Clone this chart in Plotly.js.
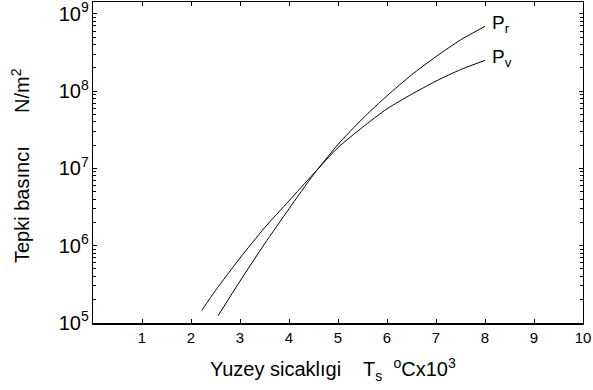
<!DOCTYPE html>
<html>
<head>
<meta charset="utf-8">
<script src="https://cdn.plot.ly/plotly-3.0.1.min.js"></script>
<style>html,body{margin:0;padding:0;background:#fff;}#chart{width:593px;height:390px;}</style>
</head>
<body>
<div id="chart"></div>
<script>
// Surface temperature (x 10^3 °C)
const prTemp = [2.55, 3.0, 3.5, 4.0, 4.5, 5.0, 5.5, 6.0, 6.5, 7.0, 7.5, 8.0];
// Reaction pressure P_r (N/m^2)
const prPressure = [1.23e5, 3.47e5, 1.05e6, 3.0e6, 8.3e6, 2.04e7, 4.4e7, 8.7e7, 1.62e8, 2.8e8, 4.6e8, 6.9e8];
const pvTemp = [2.22, 2.5, 3.0, 3.5, 4.0, 4.5, 5.0, 5.5, 6.0, 6.5, 7.0, 7.5, 8.0];
// Reaction pressure P_v (N/m^2)
const pvPressure = [1.45e5, 2.63e5, 6.9e5, 1.7e6, 3.8e6, 8.5e6, 1.86e7, 3.4e7, 5.9e7, 9.1e7, 1.35e8, 1.9e8, 2.5e8];
const xTickVals = [1, 2, 3, 4, 5, 6, 7, 8, 9, 10];
const xTickText = ['1', '2', '3', '4', '5', '6', '7', '8', '9', '10'];
const seriesNames = ['P<sub>r</sub>', 'P<sub>v</sub>'];

const FONT = 'Arial, "Liberation Sans", sans-serif';
const lineStyle = {color: '#000', width: 1, shape: 'spline', smoothing: 0.6};

const traces = [
  {x: prTemp, y: prPressure, mode: 'lines', line: lineStyle, name: seriesNames[0], hoverinfo: 'none'},
  {x: pvTemp, y: pvPressure, mode: 'lines', line: lineStyle, name: seriesNames[1], hoverinfo: 'none'}
];

const ML = 93, MR = 10, MT = 2, MB = 67;
const layout = {
  width: 593, height: 390,
  margin: {l: ML, r: MR, t: MT, b: MB},
  paper_bgcolor: '#fff', plot_bgcolor: '#fff',
  showlegend: false,
  font: {family: FONT, color: '#000', size: 14},
  xaxis: {
    range: [0, 10], tickvals: xTickVals, ticktext: xTickText,
    ticks: 'inside', ticklen: 4, tickwidth: 1, tickcolor: '#000',
    showline: true, linecolor: '#000', linewidth: 1.5, mirror: 'ticks',
    showgrid: false, zeroline: false, ticklabeloverflow: 'allow',
    tickfont: {family: FONT, size: 15, color: '#000'}
  },
  yaxis: {
    type: 'log', range: [4.998, 9.154], dtick: 1,
    exponentformat: 'power',
    ticks: 'inside', ticklen: 4, tickwidth: 1, tickcolor: '#000',
    minor: {ticks: 'inside', ticklen: 3, dtick: 'D1', tickcolor: '#000', showgrid: false},
    showline: true, linecolor: '#000', linewidth: 1, mirror: 'ticks',
    showgrid: false, zeroline: false, ticklabeloverflow: 'allow',
    tickfont: {family: FONT, size: 16, color: '#000'}
  },
  annotations: [
    {x: 8.1, y: Math.log10(7.3e8), xref: 'x', yref: 'y', text: seriesNames[0], showarrow: false,
     xanchor: 'left', yanchor: 'middle', font: {family: FONT, size: 19}},
    {x: 8.1, y: Math.log10(2.7e8), xref: 'x', yref: 'y', text: seriesNames[1], showarrow: false,
     xanchor: 'left', yanchor: 'middle', font: {family: FONT, size: 19}},
    {text: 'Yuzey sicaklıgi    T<sub>s</sub>  <sup>o</sup>Cx10<sup>3</sup>',
     xref: 'paper', yref: 'paper', showarrow: false, font: {family: FONT, size: 20},
     xanchor: 'center', yanchor: 'middle'},
    {text: 'Tepki basıncı      N/m<sup>2</sup>',
     xref: 'paper', yref: 'paper', showarrow: false, textangle: -90, font: {family: FONT, size: 20},
     xanchor: 'center', yanchor: 'middle'}
  ]
};
// pixel positions of the axis titles, converted to paper coordinates
const pw = 593 - ML - MR, ph = 390 - MT - MB;
layout.annotations[2].x = (333 - ML) / pw; layout.annotations[2].y = (390 - MB - 370) / ph;
layout.annotations[3].x = (20 - ML) / pw; layout.annotations[3].y = (390 - MB - 166) / ph;

Plotly.newPlot('chart', traces, layout, {staticPlot: true, displayModeBar: false});
</script>
</body>
</html>
